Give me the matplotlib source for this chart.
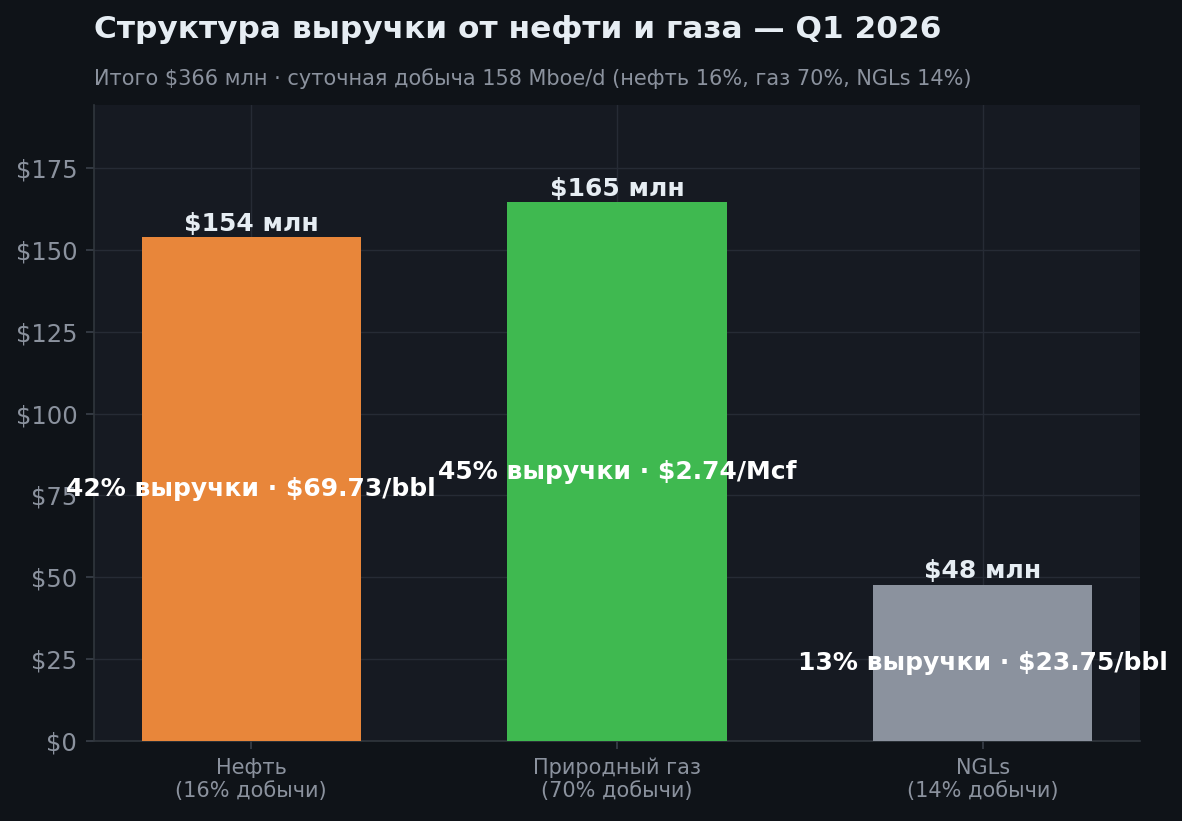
import matplotlib
matplotlib.use("Agg")
import matplotlib.pyplot as plt

categories = ["Нефть\n(16% добычи)", "Природный газ\n(70% добычи)", "NGLs\n(14% добычи)"]
revenue = [153.9, 164.6, 47.7]
top_labels = ["$154 млн", "$165 млн", "$48 млн"]
inner_labels = ["42% выручки · $69.73/bbl", "45% выручки · $2.74/Mcf", "13% выручки · $23.75/bbl"]
colors = ["#E8863A", "#3FB950", "#8B929E"]
yticks = [0, 25, 50, 75, 100, 125, 150, 175]

FIG_BG = "#0F1318"
AX_BG = "#161A22"
TXT = "#E6EDF3"
MUTED = "#8B929E"
GRID = "#262B35"

plt.rcParams['font.family'] = ['DejaVu Sans']
fig = plt.figure(figsize=(11.82, 8.21), dpi=100, facecolor=FIG_BG)
ax = fig.add_axes([0.0795, 0.0975, 0.885, 0.7745])
ax.set_facecolor(AX_BG)

x = list(range(len(categories)))
bars = ax.bar(x, revenue, width=0.6, color=colors, zorder=3)
ax.set_ylim(0, max(revenue) * 1.18)

for xi, v, t, il in zip(x, revenue, top_labels, inner_labels):
    ax.annotate(t, (xi, v), xytext=(0, 1), textcoords="offset points",
                ha="center", va="bottom", color=TXT,
                fontsize=18, fontweight="bold", zorder=5)
    ax.text(xi, v / 2, il, ha="center", va="center", color="white",
            fontsize=18, fontweight="bold", zorder=5)

ax.set_xticks(x)
ax.set_xticklabels(categories, color=MUTED, fontsize=15)
ax.set_yticks(yticks)
ax.set_yticklabels([f"${v}" for v in yticks], color=MUTED, fontsize=17.5)
ax.tick_params(axis="both", colors="#3A404A", length=6, width=1.2, labelcolor=MUTED)
ax.tick_params(axis="x", pad=6)
ax.tick_params(axis="y", pad=6)
ax.grid(True, color=GRID, linewidth=1, zorder=0)
ax.set_axisbelow(True)
for s in ["top", "right"]:
    ax.spines[s].set_visible(False)
for s in ["left", "bottom"]:
    ax.spines[s].set_color("#30363D")
    ax.spines[s].set_linewidth(1.2)

fig.text(0.0795, 0.964, "Структура выручки от нефти и газа — Q1 2026",
         ha="left", va="center", color=TXT, fontsize=22.5, fontweight="bold")
fig.text(0.0795, 0.904, "Итого $366 млн · суточная добыча 158 Mboe/d (нефть 16%, газ 70%, NGLs 14%)",
         ha="left", va="center", color=MUTED, fontsize=15)

fig.savefig("out.png", dpi=100, facecolor=FIG_BG)
